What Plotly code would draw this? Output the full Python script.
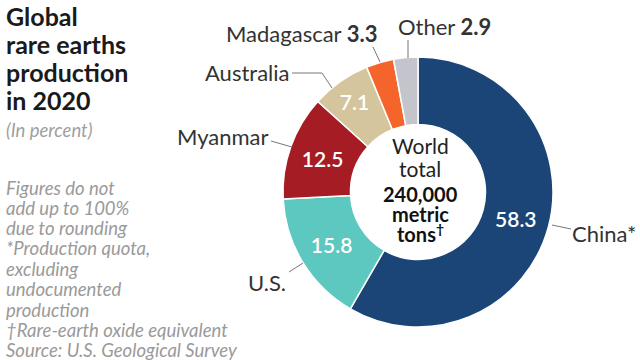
import plotly.graph_objects as go

countries = ["China*", "U.S.", "Myanmar", "Australia", "Madagascar", "Other"]
shares = [58.3, 15.8, 12.5, 7.1, 3.3, 2.9]
inside_show = [True, True, True, True, False, False]
colors = ["#1b4577", "#5dc8c0", "#a51c24", "#d4c59d", "#f4642b", "#c4c4cc"]

title_lines = ["Global", "rare earths", "production", "in 2020"]
subtitle = "(In percent)"
note_lines = [
    "Figures do not",
    "add up to 100%",
    "due to rounding",
    "*Production quota,",
    "excluding",
    "undocumented",
    "production",
    "\u2020Rare-earth oxide equivalent",
    "Source: U.S. Geological Survey",
]
center_top = ["World", "total"]
center_bold = ["240,000", "metric", "tons<sup>\u2020</sup>"]

W, H = 640, 360
FONT = "Lato"


def px(x, y):
    return x / W, 1 - y / H


fig = go.Figure()

cx, cy, r = 418, 192, 135
x0, y0 = px(cx - r, cy + r)
x1, y1 = px(cx + r, cy - r)

fig.add_trace(go.Pie(
    labels=countries,
    values=shares,
    text=[f"{v}" if s else "" for v, s in zip(shares, inside_show)],
    textinfo="text",
    textposition="inside",
    insidetextorientation="horizontal",
    insidetextfont=dict(family=FONT, size=21, color="white", weight=600),
    sort=False,
    direction="clockwise",
    rotation=0,
    hole=0.5,
    marker=dict(colors=colors, line=dict(color="white", width=1.5)),
    domain=dict(x=[x0, x1], y=[y0, y1]),
    showlegend=False,
    hoverinfo="label+value",
))

ann = []
# Title
title_y = [16, 44, 72, 100]
for t, yy in zip(title_lines, title_y):
    ax, ay = px(4, yy)
    ann.append(dict(x=ax, y=ay, xref="paper", yref="paper", xanchor="left", yanchor="middle",
                    text=f"<b>{t}</b>", showarrow=False,
                    font=dict(family=FONT, size=25, color="#1a1a1a")))
ax, ay = px(4, 130)
ann.append(dict(x=ax, y=ay, xref="paper", yref="paper", xanchor="left", yanchor="middle",
                text=f"<i>{subtitle}</i>", showarrow=False,
                font=dict(family=FONT, size=18.5, color="#a0a0a0")))
note_y = [188, 208, 228, 248, 269, 289, 310, 330, 350]
for t, yy in zip(note_lines, note_y):
    ax, ay = px(4, yy)
    ann.append(dict(x=ax, y=ay, xref="paper", yref="paper", xanchor="left", yanchor="middle",
                    text=f"<i>{t}</i>", showarrow=False,
                    font=dict(family=FONT, size=18.5, color="#9a9a9a")))

# Center text
for t, yy in zip(center_top, [145, 168]):
    ax, ay = px(420, yy)
    ann.append(dict(x=ax, y=ay, xref="paper", yref="paper", xanchor="center", yanchor="middle",
                    text=t, showarrow=False, font=dict(family=FONT, size=21, color="#222222")))
for t, yy in zip(center_bold, [194, 214, 233]):
    ax, ay = px(420, yy)
    ann.append(dict(x=ax, y=ay, xref="paper", yref="paper", xanchor="center", yanchor="middle",
                    text=f"<b>{t}</b>", showarrow=False, font=dict(family=FONT, size=20, color="#111111")))

# Outside labels
lab = {c: v for c, v in zip(countries, shares)}
outside = [
    ("China*", countries[0], 570, 233, "left"),
    ("U.S.", countries[1], 288, 282, "right"),
    ("Myanmar", countries[2], 271, 136, "right"),
    ("Australia", countries[3], 291, 73, "right"),
    ("Madagascar", countries[4], 380, 33, "right"),
    ("Other", countries[5], 396, 27, "left"),
]
for name, key, lx, ly, anc in outside:
    if key in ("Madagascar", "Other"):
        txt = f"{name} <b>{lab[key]}</b>"
    else:
        txt = name
    ax, ay = px(lx, ly)
    ann.append(dict(x=ax, y=ay, xref="paper", yref="paper", xanchor=anc, yanchor="middle",
                    text=txt, showarrow=False, font=dict(family=FONT, size=22, color="#333333")))

# Leader lines
leaders = [
    [(552, 225), (571, 229)],
    [(303, 263), (289, 272)],
    [(271, 141), (292, 147)],
    [(292, 73), (322, 73), (332, 88)],
    [(373, 47), (380, 62)],
    [(408, 40), (408, 58)],
]
shapes = []
for pts in leaders:
    path = ""
    for i, (x, y) in enumerate(pts):
        a, b = px(x, y)
        path += ("M" if i == 0 else "L") + f"{a},{b} "
    shapes.append(dict(type="path", path=path.strip(), xref="paper", yref="paper",
                       line=dict(color="#777777", width=1)))

fig.update_layout(
    width=W, height=H,
    margin=dict(l=0, r=0, t=0, b=0),
    paper_bgcolor="white", plot_bgcolor="white",
    annotations=ann, shapes=shapes,
    font=dict(family=FONT),
)

fig.write_html("out.html", config={"displayModeBar": False},
               post_script="document.body.style.margin='0';")
